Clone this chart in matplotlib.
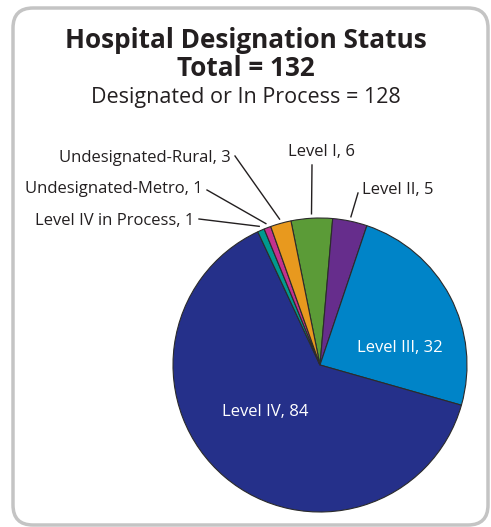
import numpy as np
import matplotlib

matplotlib.use("Agg")
import matplotlib.pyplot as plt
from matplotlib.patches import FancyBboxPatch

# data
labels = ["Level I", "Level II", "Level III", "Level IV", "Level IV in Process",
          "Undesignated-Metro", "Undesignated-Rural"]
counts = [6, 5, 32, 84, 1, 1, 3]
colors = ["#5b9b37", "#662d8c", "#0084c8", "#25308a", "#00998f", "#c4318e", "#e8991e"]
title = "Hospital Designation Status"
total_line = "Total = 132"
subtitle = "Designated or In Process = 128"

W, H = 491, 527
plt.rcParams["font.family"] = ["Open Sans", "DejaVu Sans"]
TXT = "#231f20"


def py(y):
    # pixel row (from top) -> data y
    return H - y


fig = plt.figure(figsize=(W / 100, H / 100), dpi=100)
ax = fig.add_axes([0, 0, 1, 1])

# rounded frame
ax.add_patch(FancyBboxPatch((13, py(525)), 475, 517,
                            boxstyle="round,pad=0,rounding_size=20",
                            fc="white", ec="#c4c4c4", lw=2.5, zorder=0))

cx, cy, r = 320, py(365), 147
wedges, _ = ax.pie(counts, colors=colors, startangle=101.4, counterclock=False,
                   radius=r, center=(cx, cy),
                   wedgeprops=dict(edgecolor="#2b2b2b", linewidth=0.8))
ax.set_xlim(0, W)
ax.set_ylim(0, H)
ax.set_aspect("equal")
ax.axis("off")

ax.text(W / 2, py(41), title, ha="center", va="center", fontsize=18.8,
        fontweight="bold", color=TXT)
ax.text(W / 2, py(69), total_line, ha="center", va="center", fontsize=18.8,
        fontweight="bold", color=TXT)
ax.text(W / 2, py(98), subtitle, ha="center", va="center", fontsize=15.5,
        color=TXT)

# outside labels: text anchor, alignment, leader end point (pixels)
outside = {
    "Level I": ((322, 152), "center", (312, 165)),
    "Level II": ((362, 190), "left", (358, 193)),
    "Undesignated-Rural": ((231, 158), "right", (235, 156)),
    "Undesignated-Metro": ((203, 189), "right", (207, 190)),
    "Level IV in Process": ((194, 221), "right", (199, 219)),
}
inside = {
    "Level III": (400, 348),
    "Level IV": (265, 412),
}

for w, lab, n in zip(wedges, labels, counts):
    txt = f"{lab}, {n}"
    if lab in outside:
        (tx, ty), ha, (lx, ly) = outside[lab]
        mid = np.deg2rad((w.theta1 + w.theta2) / 2)
        x0 = cx + r * 1.03 * np.cos(mid)
        y0 = cy + r * 1.03 * np.sin(mid)
        ax.plot([x0, lx], [y0, py(ly)], color=TXT, lw=1)
        ax.text(tx, py(ty), txt, ha=ha, va="center", fontsize=12, color=TXT)
    else:
        tx, ty = inside[lab]
        ax.text(tx, py(ty), txt, ha="center", va="center", fontsize=12,
                color="white")

fig.savefig("out.png", dpi=100)
